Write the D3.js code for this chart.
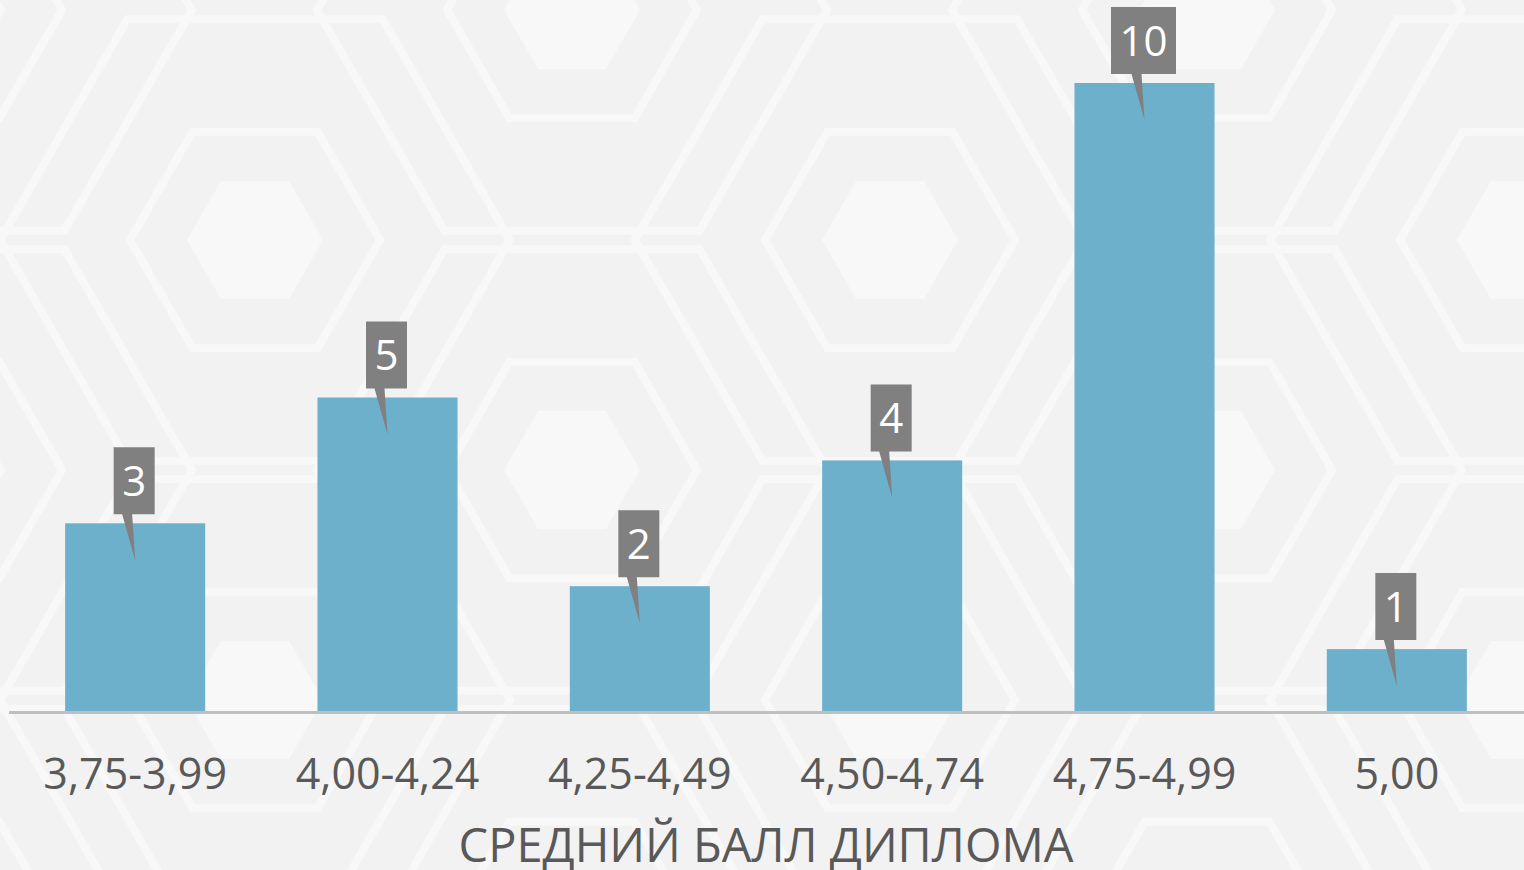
<!DOCTYPE html>
<html><head><meta charset="utf-8">
<script src="https://cdn.jsdelivr.net/npm/d3@7"></script>
<style>html,body{margin:0;padding:0;background:#f2f2f2;overflow:hidden}</style>
</head><body><svg id="c" width="1524" height="870"></svg>
<script>
const categories = ["3,75-3,99","4,00-4,24","4,25-4,49","4,50-4,74","4,75-4,99","5,00"];
const values = [3,5,2,4,10,1];
const axisTitle = "СРЕДНИЙ БАЛЛ ДИПЛОМА";

const W = 1524, H = 870;
const svg = d3.select("#c");
const font = "'Open Sans', 'Noto Sans', sans-serif";

// background
svg.append("rect").attr("width",W).attr("height",H).attr("fill","#f2f2f2");
const bg = svg.append("g");
const hexPts = (cx,cy,r)=>d3.range(6).map(i=>{const a=Math.PI/3*i;return [cx+r*Math.cos(a), cy+r*Math.sin(a)];});
const centers = [];
for (let row=-1; row<5; row++) {
  for (let col=-1; col<4; col++) {
    const cx = 255 + col*635 + ((row%2+2)%2)*317;
    const cy = 240 + row*230;
    centers.push([cx,cy]);
  }
}
centers.forEach(([cx,cy])=>{
  [255,125].forEach(r=>{
    bg.append("polygon").attr("points",hexPts(cx,cy,r).join(" "))
      .attr("fill","none").attr("stroke","#f8f8f8").attr("stroke-width",8);
  });
  bg.append("polygon").attr("points",hexPts(cx,cy,68).join(" "))
    .attr("fill","#f8f8f8");
});

const x = d3.scaleBand().domain(categories).range([9,1523]).paddingInner(0.445).paddingOuter(0.2225);
const y = d3.scaleLinear().domain([0,10]).range([712,83]);

svg.append("g").selectAll("rect").data(values).join("rect")
  .attr("x",(d,i)=>x(categories[i])).attr("width",x.bandwidth())
  .attr("y",d=>y(d)).attr("height",d=>y(0)-y(d)).attr("fill","#6cb0cc");

// axis line
svg.append("line").attr("x1",9).attr("x2",1524).attr("y1",712.5).attr("y2",712.5)
  .attr("stroke","#bfbfbf").attr("stroke-width",3);

// category labels
const xa = d3.axisBottom(x).tickSize(0).tickPadding(0);
const ag = svg.append("g").attr("transform","translate(0,712)").call(xa);
ag.select(".domain").remove();
ag.selectAll("text").attr("dy",null).attr("y",77).attr("font-size",43).attr("font-family",font).attr("fill","#595959");

svg.append("text").attr("x",766).attr("y",862).attr("text-anchor","middle")
  .attr("font-size",47).attr("font-family",font).attr("fill","#595959").text(axisTitle);

// callouts
const cg = svg.append("g");
values.forEach((v,i)=>{
  const cx = x(categories[i]) + x.bandwidth()/2;
  const top = y(v);
  const label = String(v);
  const bw = label.length>1 ? 65 : 41;
  const bh = 67;
  const bb = top - 9;
  const bx = cx - bw/2 - 1;
  const g = cg.append("g");
  g.append("path").attr("d",`M${bx},${bb-bh}H${bx+bw}V${bb}H${cx-3}L${cx},${top+37}L${cx-13},${bb}H${bx}Z`)
    .attr("fill","#808080");
  g.append("text").attr("x",bx+bw/2).attr("y",bb-bh/2+15).attr("text-anchor","middle")
    .attr("font-size",42).attr("font-family",font).attr("fill","#ffffff").text(label);
});
</script></body></html>
